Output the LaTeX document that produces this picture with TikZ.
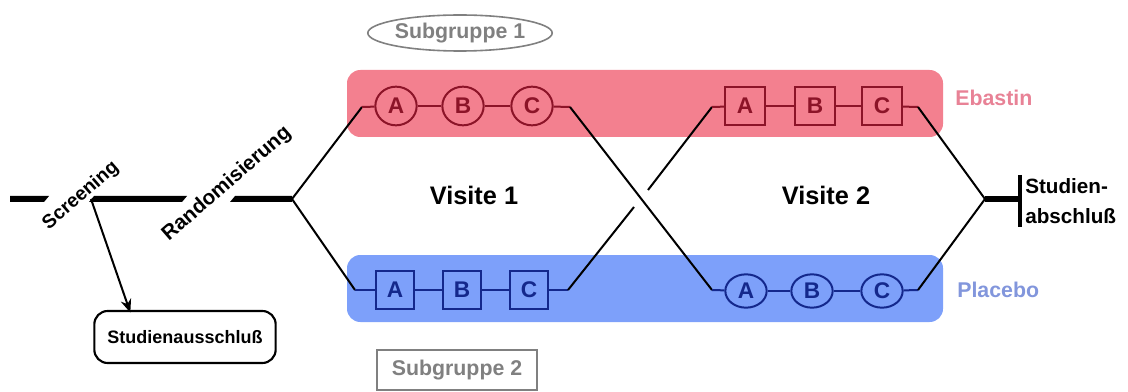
\documentclass[tikz,border=0pt]{standalone}
\usepackage{fontspec}
\setmainfont{Liberation Sans}
\usetikzlibrary{shapes.geometric,arrows.meta,calc}
\definecolor{bandred}{RGB}{243,128,143}
\definecolor{bandblue}{RGB}{125,160,250}
\definecolor{dred}{RGB}{140,20,40}
\definecolor{dblue}{RGB}{20,40,140}
\definecolor{ebtext}{RGB}{232,130,150}
\definecolor{pltext}{RGB}{130,150,220}
\definecolor{sgray}{RGB}{128,128,128}
\begin{document}
\begin{tikzpicture}[x=0.75pt,y=-0.75pt,
  thin/.style={line width=1.5pt},
  rcirc/.style={ellipse,draw=dred,line width=1.5pt,minimum width=31pt,minimum height=29pt,inner sep=0pt,font=\bfseries\fontsize{17}{17}\selectfont,text=dred},
  rbox/.style={rectangle,draw=dred,line width=1.5pt,minimum width=30pt,minimum height=29pt,inner sep=0pt,font=\bfseries\fontsize{17}{17}\selectfont,text=dred},
  bcirc/.style={ellipse,draw=dblue,line width=1.5pt,minimum width=31pt,minimum height=25pt,inner sep=0pt,font=\bfseries\fontsize{17}{17}\selectfont,text=dblue},
  bbox/.style={rectangle,draw=dblue,line width=1.5pt,minimum width=28pt,minimum height=28pt,inner sep=0pt,font=\bfseries\fontsize{17}{17}\selectfont,text=dblue},
  phase/.style={font=\bfseries\fontsize{14.5}{15}\selectfont,rotate=41,inner sep=0pt},
  visit/.style={font=\bfseries\fontsize{19}{19}\selectfont},
  armlabel/.style={font=\bfseries\fontsize{16}{16}\selectfont,anchor=west,inner sep=0pt},
  sub/.style={font=\bfseries\fontsize{16}{16}\selectfont,text=sgray,draw=sgray,line width=1.2pt}
]
\useasboundingbox (0,0) rectangle (1128,392);
% bands
\fill[bandred,rounded corners=10pt] (347,70) rectangle (943,137);
\fill[bandblue,rounded corners=10pt] (347,255) rectangle (943,322);
% thick time line
\fill (10,196) -- (49,196) -- (44,202) -- (10,202) -- cycle;
\fill (94,196) -- (187,196) -- (182,202) -- (89,202) -- cycle;
\fill (235,196) -- (292,196) -- (292,202) -- (230,202) -- cycle;
\node[phase] (scr) at (81,196) {Screening};
\node[phase,font=\bfseries\fontsize{15.5}{16}\selectfont] (rand) at (227,184) {Randomisierung};
% coordinates
\coordinate (split) at (292,199);
\coordinate (scrpt) at (91,199);
\coordinate (u1) at (362,107);
\coordinate (u2) at (570,107);
\coordinate (l1) at (355,290);
\coordinate (l2) at (568,290);
\coordinate (l3) at (712,290);
\coordinate (r1) at (712,107);
\coordinate (g1) at (634,207);
\coordinate (g2) at (648,190);
\coordinate (r2) at (918,107);
\coordinate (l4) at (918,290);
\coordinate (fin) at (985,199);
\coordinate (bar) at (1020,199);
\coordinate (bartop) at (1020,175);
\coordinate (barbot) at (1020,227);
% nodes
\node[rcirc] (uA) at (396,106) {A};
\node[rcirc] (uB) at (463,106) {B};
\node[rcirc] (uC) at (532,106) {C};
\node[bbox] (lA) at (395,290) {A};
\node[bbox] (lB) at (462,290) {B};
\node[bbox] (lC) at (529,290) {C};
\node[rbox] (rA) at (745,106) {A};
\node[rbox] (rB) at (815,106) {B};
\node[rbox] (rC) at (882,106) {C};
\node[bcirc] (sA) at (746,291) {A};
\node[bcirc] (sB) at (812,291) {B};
\node[bcirc] (sC) at (882,291) {C};
\node[visit] (v1) at (474,195) {Visite 1};
\node[visit] (v2) at (826,195) {Visite 2};
\node[armlabel,text=ebtext] (eb) at (955,98) {Ebastin};
\node[armlabel,text=pltext] (pl) at (957,290) {Placebo};
\node[sub,ellipse,minimum width=131pt,minimum height=27pt,inner sep=0pt] (sg1) at (460,33) {Subgruppe 1};
\node[sub,rectangle,minimum width=120pt,minimum height=30pt,inner sep=0pt] (sg2) at (457,370) {Subgruppe 2};
\node[draw,line width=1.6pt,rounded corners=10pt,minimum width=136pt,minimum height=39pt,font=\bfseries\fontsize{13.5}{13.5}\selectfont] (excl) at (185,337) {Studienausschluß};
\node[anchor=west,align=left,font=\bfseries\fontsize{15.5}{22}\selectfont,inner sep=0pt] (abs) at (1025,201) {Studien-\\abschluß};
% connectors
\draw[thin] (split) -- (u1);
\draw[thin,dred] (u1) -- (uA);
\draw[thin,dred] (uA) -- (uB);
\draw[thin,dred] (uB) -- (uC);
\draw[thin,dred] (uC) -- (u2);
\draw[thin] (split) -- (l1);
\draw[thin,dblue] (l1) -- (lA);
\draw[thin,dblue] (lA) -- (lB);
\draw[thin,dblue] (lB) -- (lC);
\draw[thin,dblue] (lC) -- (l2);
\draw[thin] (u2) -- (l3);
\draw[thin] (l2) -- (g1);
\draw[thin] (g2) -- (r1);
\draw[thin,dred] (r1) -- (rA);
\draw[thin,dred] (rA) -- (rB);
\draw[thin,dred] (rB) -- (rC);
\draw[thin,dred] (rC) -- (r2);
\draw[thin,dblue] (l3) -- (sA);
\draw[thin,dblue] (sA) -- (sB);
\draw[thin,dblue] (sB) -- (sC);
\draw[thin,dblue] (sC) -- (l4);
\draw[thin] (r2) -- (fin);
\draw[thin] (l4) -- (fin);
\draw[line width=4.5pt] (fin) -- (bar);
\draw[line width=2.5pt] (bartop) -- (barbot);
\draw[thin,-{Stealth[length=10pt,width=8pt]}] (scrpt) -- ([xshift=-41pt,yshift=-2pt]excl.north);
\end{tikzpicture}
\end{document}
